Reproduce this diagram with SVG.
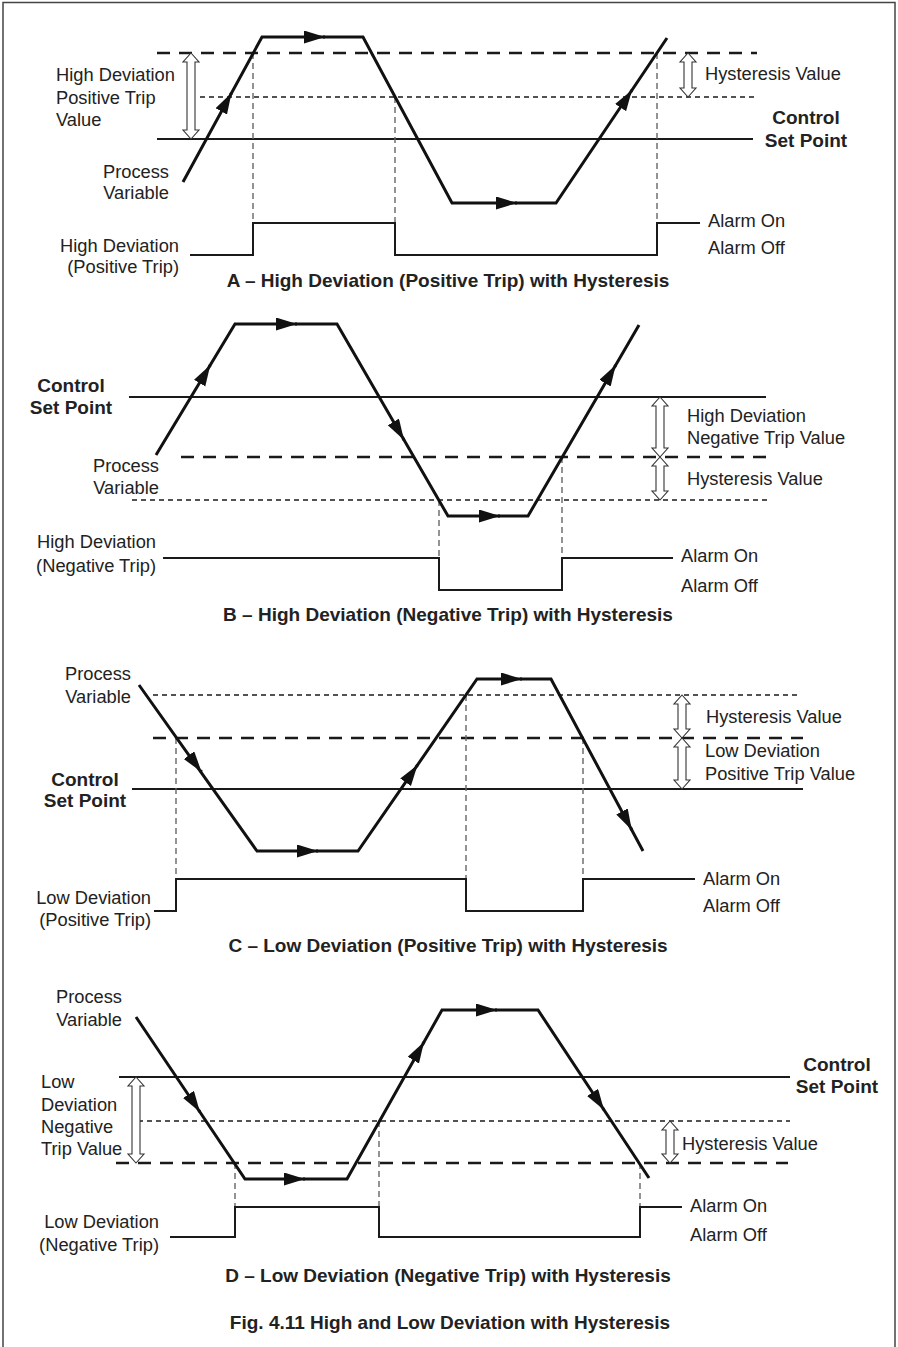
<svg xmlns="http://www.w3.org/2000/svg" width="898" height="1347" viewBox="0 0 898 1347">
<style>
text{font-family:"Liberation Sans",Arial,Helvetica,sans-serif;fill:#222}
.t{font-size:18.3px}
.b{font-size:19px;font-weight:bold}
.e{text-anchor:end}
.m{text-anchor:middle}
.sp{stroke:#1a1a1a;stroke-width:2.2;fill:none}
.dash{stroke:#1a1a1a;stroke-width:2.6;stroke-dasharray:13 9;fill:none}
.dot{stroke:#1a1a1a;stroke-width:1.4;stroke-dasharray:5 4;fill:none}
.pv{stroke:#111;stroke-width:3;fill:none;stroke-linejoin:miter}
.al{stroke:#1a1a1a;stroke-width:2;fill:none}
.vd{stroke:#666;stroke-width:1.4;stroke-dasharray:6 4;fill:none}
.ar{stroke:#111;stroke-width:3;fill:none;marker-end:url(#ah)}
.dbl{fill:#fff;stroke:#333;stroke-width:1.1}
.frame{stroke:#444;stroke-width:1.5;fill:none}
</style>
<defs>
<marker id="ah" markerUnits="userSpaceOnUse" markerWidth="24" markerHeight="14" refX="21" refY="6.5" orient="auto">
<path d="M0,0 L21,6.5 L0,13 z" fill="#111"/>
</marker>
</defs>
<rect width="898" height="1347" fill="#fff"/>
<path class="frame" d="M3,1347 V2.5 H895 V1347"/>

<!-- Panel A -->
<g id="panel-a">
<line class="dash" x1="157" y1="53" x2="757" y2="53"/>
<line class="dot" x1="200" y1="97" x2="757" y2="97"/>
<line class="sp" x1="157" y1="139" x2="753" y2="139"/>
<polygon class="dbl" points="191,53 199,62 195,62 195,130 199,130 191,139 183,130 187,130 187,62 183,62"/>
<polygon class="dbl" points="688,53 696,62 692,62 692,88 696,88 688,97 680,88 684,88 684,62 680,62"/>
<text class="t" x="56" y="81">High Deviation</text>
<text class="t" x="56" y="104">Positive Trip</text>
<text class="t" x="56" y="126">Value</text>
<text class="t e" x="169" y="178">Process</text>
<text class="t e" x="169" y="199">Variable</text>
<text class="t e" x="179" y="252">High Deviation</text>
<text class="t e" x="179" y="273">(Positive Trip)</text>
<text class="t" x="705" y="80">Hysteresis Value</text>
<text class="b m" x="806" y="124">Control</text>
<text class="b m" x="806" y="147">Set Point</text>
<text class="t" x="708" y="227">Alarm On</text>
<text class="t" x="708" y="254">Alarm Off</text>
<text class="b m" x="448" y="287">A – High Deviation (Positive Trip) with Hysteresis</text>
</g>

<!-- Panel B -->
<g id="panel-b">
<line class="sp" x1="129" y1="397" x2="766" y2="397"/>
<line class="dash" x1="181" y1="457" x2="768" y2="457"/>
<line class="dot" x1="132" y1="500" x2="767" y2="500"/>
<polygon class="dbl" points="660,397 668,406 664,406 664,448 668,448 660,457 652,448 656,448 656,406 652,406"/>
<polygon class="dbl" points="660,457 668,466 664,466 664,491 668,491 660,500 652,491 656,491 656,466 652,466"/>
<text class="b m" x="71" y="392">Control</text>
<text class="b m" x="71" y="414">Set Point</text>
<text class="t e" x="159" y="472">Process</text>
<text class="t e" x="159" y="494">Variable</text>
<text class="t e" x="156" y="548">High Deviation</text>
<text class="t e" x="156" y="572">(Negative Trip)</text>
<text class="t" x="687" y="422">High Deviation</text>
<text class="t" x="687" y="444">Negative Trip Value</text>
<text class="t" x="687" y="485">Hysteresis Value</text>
<text class="t" x="681" y="562">Alarm On</text>
<text class="t" x="681" y="592">Alarm Off</text>
<text class="b m" x="448" y="621">B – High Deviation (Negative Trip) with Hysteresis</text>
</g>

<!-- Panel C -->
<g id="panel-c">
<line class="dot" x1="153" y1="695" x2="798" y2="695"/>
<line class="dash" x1="153" y1="738" x2="803" y2="738"/>
<line class="sp" x1="132" y1="789" x2="803" y2="789"/>
<polygon class="dbl" points="682,695 690,704 686,704 686,729 690,729 682,738 674,729 678,729 678,704 674,704"/>
<polygon class="dbl" points="682,738 690,747 686,747 686,780 690,780 682,789 674,780 678,780 678,747 674,747"/>
<text class="t e" x="131" y="680">Process</text>
<text class="t e" x="131" y="703">Variable</text>
<text class="b m" x="85" y="786">Control</text>
<text class="b m" x="85" y="807">Set Point</text>
<text class="t e" x="151" y="904">Low Deviation</text>
<text class="t e" x="151" y="926">(Positive Trip)</text>
<text class="t" x="706" y="723">Hysteresis Value</text>
<text class="t" x="705" y="757">Low Deviation</text>
<text class="t" x="705" y="780">Positive Trip Value</text>
<text class="t" x="703" y="885">Alarm On</text>
<text class="t" x="703" y="912">Alarm Off</text>
<text class="b m" x="448" y="952">C – Low Deviation (Positive Trip) with Hysteresis</text>
</g>

<!-- Panel D -->
<g id="panel-d">
<line class="sp" x1="119" y1="1077" x2="790" y2="1077"/>
<line class="dot" x1="138" y1="1121" x2="790" y2="1121"/>
<line class="dash" x1="116" y1="1163" x2="788" y2="1163"/>
<polygon class="dbl" points="136,1077 144,1086 140,1086 140,1154 144,1154 136,1163 128,1154 132,1154 132,1086 128,1086"/>
<polygon class="dbl" points="670,1121 678,1130 674,1130 674,1154 678,1154 670,1163 662,1154 666,1154 666,1130 662,1130"/>
<text class="t e" x="122" y="1003">Process</text>
<text class="t e" x="122" y="1026">Variable</text>
<text class="t" x="41" y="1088">Low</text>
<text class="t" x="41" y="1111">Deviation</text>
<text class="t" x="41" y="1133">Negative</text>
<text class="t" x="41" y="1155">Trip Value</text>
<text class="t e" x="159" y="1228">Low Deviation</text>
<text class="t e" x="159" y="1251">(Negative Trip)</text>
<text class="b m" x="837" y="1071">Control</text>
<text class="b m" x="837" y="1093">Set Point</text>
<text class="t" x="682" y="1150">Hysteresis Value</text>
<text class="t" x="690" y="1212">Alarm On</text>
<text class="t" x="690" y="1241">Alarm Off</text>
<text class="b m" x="448" y="1282">D – Low Deviation (Negative Trip) with Hysteresis</text>
</g>

<text id="fig-caption" class="b m" x="450" y="1329">Fig. 4.11 High and Low Deviation with Hysteresis</text>

<!-- Connectors: process variable traces, alarm outputs, projection lines -->
<g id="connectors">
<path class="vd" d="M253,53 V223 M395,97 V223 M657,53 V223"/>
<path class="pv" d="M183,182 L262,37 L363,37 L452,203 L556,203 L667,38"/>
<path class="ar" d="M230.5,94.8 L231.5,93"/>
<path class="ar" d="M323,37 L325,37"/>
<path class="ar" d="M515,203 L517,203"/>
<path class="ar" d="M630.9,91.7 L632,90"/>
<path class="al" d="M190,255 H253 V223 H395 V255 H657 V223 H700"/>

<path class="vd" d="M439,500 V558 M562,457 V558"/>
<path class="pv" d="M156,455 L235,324 L337,324 L448,516 L528,516 L639,325"/>
<path class="ar" d="M209.3,366.7 L210.3,365"/>
<path class="ar" d="M295,324 L297,324"/>
<path class="ar" d="M403,438.3 L404,440"/>
<path class="ar" d="M498,516 L500,516"/>
<path class="ar" d="M614.7,366.7 L615.7,365"/>
<path class="al" d="M163,558 H439 V590 H562 V558 H673"/>

<path class="vd" d="M176,738 V879 M466,695 V879 M583,738 V879"/>
<path class="pv" d="M139,685 L257,851 L358,851 L477,679 L551,679 L643,851"/>
<path class="ar" d="M200.4,770.4 L201.6,772"/>
<path class="ar" d="M316,851 L318,851"/>
<path class="ar" d="M416.4,766.6 L417.5,765"/>
<path class="ar" d="M520,679 L522,679"/>
<path class="ar" d="M630.9,828.3 L631.8,830"/>
<path class="al" d="M154,911 H176 V879 H466 V911 H583 V879 H695"/>

<path class="vd" d="M235,1163 V1207 M379,1121 V1207 M640,1163 V1207"/>
<path class="pv" d="M136,1017 L245,1179 L347,1179 L442,1010 L538,1010 L649,1178"/>
<path class="ar" d="M198.8,1110.3 L199.9,1112"/>
<path class="ar" d="M303,1179 L305,1179"/>
<path class="ar" d="M423,1043.7 L424,1042"/>
<path class="ar" d="M495,1010 L497,1010"/>
<path class="ar" d="M602.9,1108.3 L604,1110"/>
<path class="al" d="M170,1237 H235 V1207 H379 V1237 H640 V1207 H682"/>
</g>
</svg>
